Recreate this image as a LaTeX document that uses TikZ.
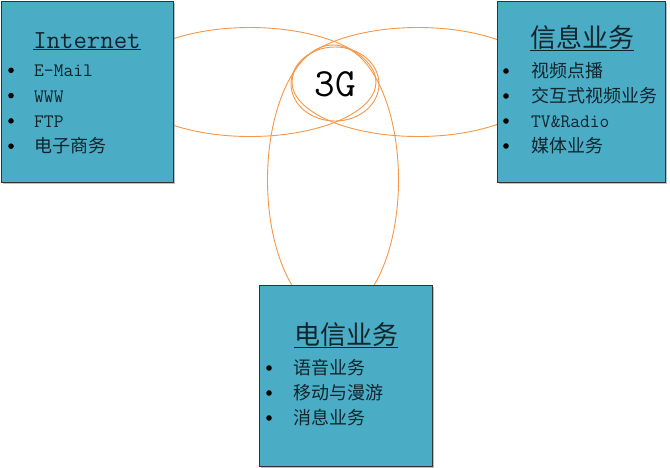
\documentclass[tikz,border=0pt]{standalone}
\usepackage{fontspec}
\newfontfamily\cjk{Noto Sans CJK SC}
\newcommand\zh{\cjk\fontsize{18}{21}\selectfont}
\usepackage{tikz}
\usetikzlibrary{shapes.geometric, positioning, shadows}
\definecolor{panelblue}{RGB}{75,172,198}
\definecolor{ringorange}{RGB}{247,150,70}
\definecolor{inkdark}{RGB}{18,36,44}

\begin{document}
\begin{tikzpicture}[x=1pt, y=-1pt,
                    ring/.style={ellipse,
                                 draw=ringorange,
                                 line width=0.9pt,
                                 inner sep=0pt},
                    panel/.style={rectangle,
                                  draw=black!80,
                                  line width=1pt,
                                  fill=panelblue,
                                  drop shadow={shadow xshift=1.5pt, shadow yshift=-1.5pt, opacity=0.5}},
                    heading/.style={anchor=base, text=inkdark,
                                    font=\fontsize{26}{30}\selectfont},
                    dot/.style={circle, fill=black, inner sep=0pt, minimum size=5.6pt},
                    item/.style={anchor=west, inner sep=0pt,
                                 text height=13pt, text depth=0pt, text=inkdark,
                                 font=\ttfamily\fontsize{19}{22}\selectfont}]
                      \useasboundingbox (0,0) rectangle (670,467);

                      \node[ring, minimum width=252pt, minimum height=109pt] (netring) at (250,82) {};
                      \node[ring, minimum width=252pt, minimum height=109pt] (inforing) at (418,82) {};
                      \node[ring, minimum width=131pt, minimum height=270pt] (telring) at (333,180) {};
                      \node[ring, minimum width=88pt, minimum height=74pt,
                            font=\ttfamily\fontsize{40}{42}\selectfont] (core) at (335,84) {3G};

                      \node[panel, minimum width=172pt, minimum height=181pt] (net) at (87,91.5) {};
                      \node[panel, minimum width=168pt, minimum height=181pt] (info) at (581,91.5) {};
                      \node[panel, minimum width=173pt, minimum height=181pt] (tel) at (345.5,375.5) {};

                      \node[heading] (nettitle) at (87,48) {\ttfamily\underline{Internet}};
                      \node[heading] (infotitle) at (582,47) {\cjk\underline{信息业务}};
                      \node[heading] (teltitle) at (346,344) {\cjk\underline{电信业务}};

                      \foreach \txt [count=\k] in {E-Mail, WWW, FTP, {\zh 电子商务}} {
                              \node[dot] (netdot\k) at (11, 45+25.3*\k) {};
                              \node[item, right=20pt of netdot\k] (netitem\k) {\txt};
                          }
                      \foreach \txt [count=\k] in {{\zh 视频点播}, {\zh 交互式视频业务}, TV\&Radio, {\zh 媒体业务}} {
                              \node[dot] (infodot\k) at (506, 46+25*\k) {};
                              \node[item, right=22pt of infodot\k] (infoitem\k) {\txt};
                          }
                      \foreach \txt [count=\k] in {语音业务, 移动与漫游, 消息业务} {
                              \node[dot] (teldot\k) at (269, 343+25*\k) {};
                              \node[item, right=21pt of teldot\k] (telitem\k) {\zh\txt};
                          }
                  \end{tikzpicture}
\end{document}
